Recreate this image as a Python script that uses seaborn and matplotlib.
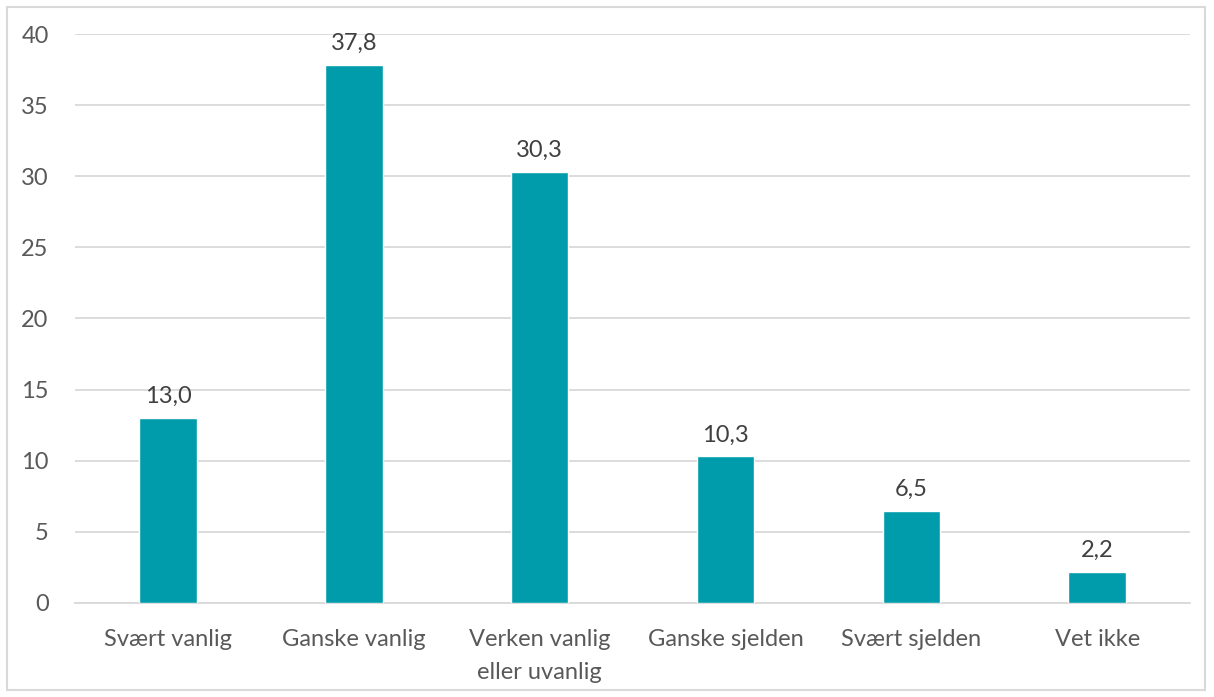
import pandas as pd
import matplotlib.pyplot as plt
import seaborn as sns
from matplotlib.patches import Rectangle

# Data
categories = ['Svært vanlig', 'Ganske vanlig', 'Verken vanlig\neller uvanlig',
              'Ganske sjelden', 'Svært sjelden', 'Vet ikke']
values = [13.0, 37.8, 30.3, 10.3, 6.5, 2.2]
labels = ['13,0', '37,8', '30,3', '10,3', '6,5', '2,2']

df = pd.DataFrame({'kategori': categories, 'prosent': values})

sns.set_style('white')
plt.rcParams['font.family'] = ['Lato', 'DejaVu Sans']

fig = plt.figure(figsize=(12.14, 6.97), dpi=100)
ax = fig.add_axes([0.0618, 0.1349, 0.9185, 0.8163])

sns.barplot(data=df, x='kategori', y='prosent', color='#009CAB',
            width=0.31, saturation=1, ax=ax, zorder=3)

for i, (v, lab) in enumerate(zip(values, labels)):
    ax.annotate(lab, (i, v), xytext=(0, 8), textcoords='offset points',
                ha='center', va='bottom', fontsize=17, color='#404040')

ax.set_ylim(0, 40)
ax.set_xlim(-0.5, 5.5)
ax.set_yticks(range(0, 41, 5))
ax.set_xticks(range(len(categories)))
ax.set_xticklabels(categories, linespacing=1.7)
ax.grid(axis='y', color='#D9D9D9', linewidth=1.3, zorder=0)
for s in ['top', 'right', 'left']:
    ax.spines[s].set_visible(False)
ax.spines['bottom'].set_color('#D9D9D9')
ax.spines['bottom'].set_linewidth(1.3)
ax.set_xlabel('')
ax.set_ylabel('')
ax.tick_params(axis='both', length=0, labelsize=17, labelcolor='#595959')
ax.tick_params(axis='x', pad=19)
ax.tick_params(axis='y', pad=19)

# outer frame
fig.patches.append(Rectangle((7 / 1214, 7 / 697), 1198 / 1214, 683 / 697,
                             transform=fig.transFigure, fill=False,
                             edgecolor='#D9D9D9', linewidth=1.5))

plt.savefig('out.png', dpi=100)
